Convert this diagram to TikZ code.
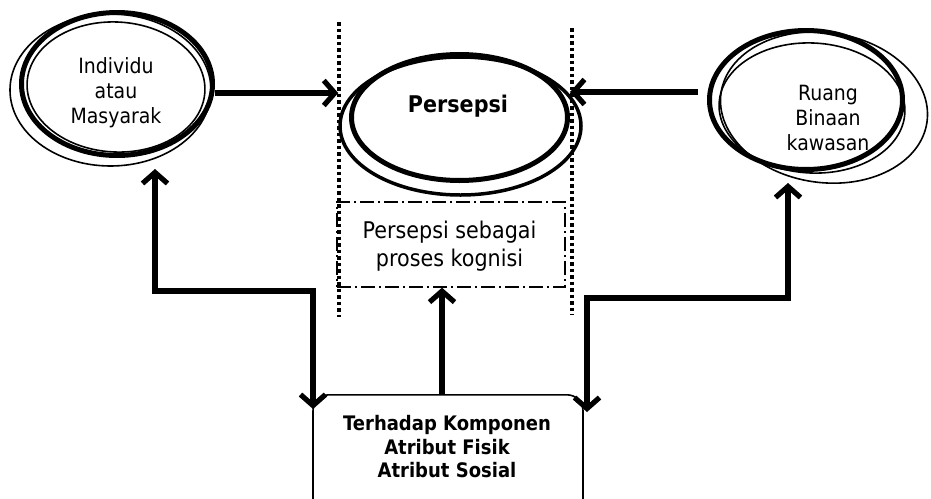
\documentclass[tikz,border=0pt]{standalone}
\usepackage{fontspec}
\setmainfont{DejaVu Sans}[FakeStretch=0.9]
\usetikzlibrary{shapes.geometric,arrows.meta}

\begin{document}
\begin{tikzpicture}[x=1pt,y=-1pt,
  thickell/.style={ellipse,draw,line width=5pt,inner sep=0pt},
  midell/.style={ellipse,draw,line width=3.5pt,inner sep=0pt},
  thinell/.style={ellipse,draw,line width=1.6pt,inner sep=0pt},
  lbl/.style={align=center,inner sep=0pt,font=\fontsize{21}{25}\selectfont},
  tip/.tip={Straight Barb[length=11pt,width=25pt]},
  conn/.style={line width=5.2pt,-tip},
  biconn/.style={line width=5.2pt,tip-tip},
  dotline/.style={line width=3.5pt,dash pattern=on 3.5pt off 3pt},
]
\useasboundingbox (0,0) rectangle (931,498);
\clip (0,0) rectangle (931,498);

% left ellipse group
\node[thinell,minimum width=201pt,minimum height=152pt] (indivA) at (110.5,90) {};
\node[thinell,minimum width=178pt,minimum height=130pt,rotate=-3] (indivB) at (116,87) {};
\node[thickell,minimum width=191pt,minimum height=143pt] (indiv) at (117,84) {};
\node[lbl] (indivT) at (116,93) {Individu\\atau\\Masyarak};

% Persepsi ellipse group
\node[midell,minimum width=241pt,minimum height=138pt] (persB) at (460.5,126) {};
\node[thickell,minimum width=216pt,minimum height=126pt] (pers) at (459.5,117.5) {};
\node[inner sep=0pt,font=\bfseries\fontsize{23}{27}\selectfont] (persT) at (458,106) {Persepsi};

% right ellipse group
\node[thinell,minimum width=208pt,minimum height=150pt,rotate=-8] (ruangA) at (824,107.5) {};
\node[thinell,minimum width=186pt,minimum height=130pt,rotate=-3] (ruangB) at (812,108) {};
\node[thickell,minimum width=193pt,minimum height=139pt] (ruang) at (806,100) {};
\node[lbl] (ruangT) at (828,118) {Ruang\\Binaan\\kawasan};

% dotted vertical lines
\draw[dotline] (339,22) -- (339,317);
\draw[dotline] (572,28) -- (572,315);

% dash-dot box
\node[draw,line width=1.3pt,dash pattern=on 14pt off 4pt on 2pt off 4pt,
      minimum width=228pt,minimum height=85pt,inner sep=0pt] (kog) at (451,244.5) {};
\node[align=center,inner sep=0pt,font=\fontsize{23}{28}\selectfont] (kogT) at (449.5,246) {Persepsi sebagai\\proses kognisi};

% bottom box
\node[draw,line width=1.6pt,rounded corners=16pt,minimum width=270pt,minimum height=125pt,
      anchor=north,inner sep=0pt] (box) at (448,394) {};
\node[align=center,inner sep=0pt,font=\bfseries\fontsize{20}{23.5}\selectfont] (boxT) at (447,447)
  {Terhadap Komponen\\Atribut Fisik\\Atribut Sosial};

% coordinates for connector ends
\coordinate (lt) at (155,169);
\coordinate (lb) at (313,409);
\coordinate (rt) at (788,183);
\coordinate (rb) at (587,412);

% connectors
\draw[conn] (indiv.east |- 0,93) -- (persB.west |- 0,93);
\draw[conn] ([xshift=-9pt]ruang.west |- 0,92) -- (pers.east |- 0,92);
\draw[biconn] (lt) -- (lt |- 0,291) -| (lb);
\draw[biconn] (rb) -- (rb |- 0,298) -| (rt);
\draw[conn] ([xshift=-6pt]box.north) -- ([xshift=-6pt]box.north |- kog.south);
\end{tikzpicture}
\end{document}
